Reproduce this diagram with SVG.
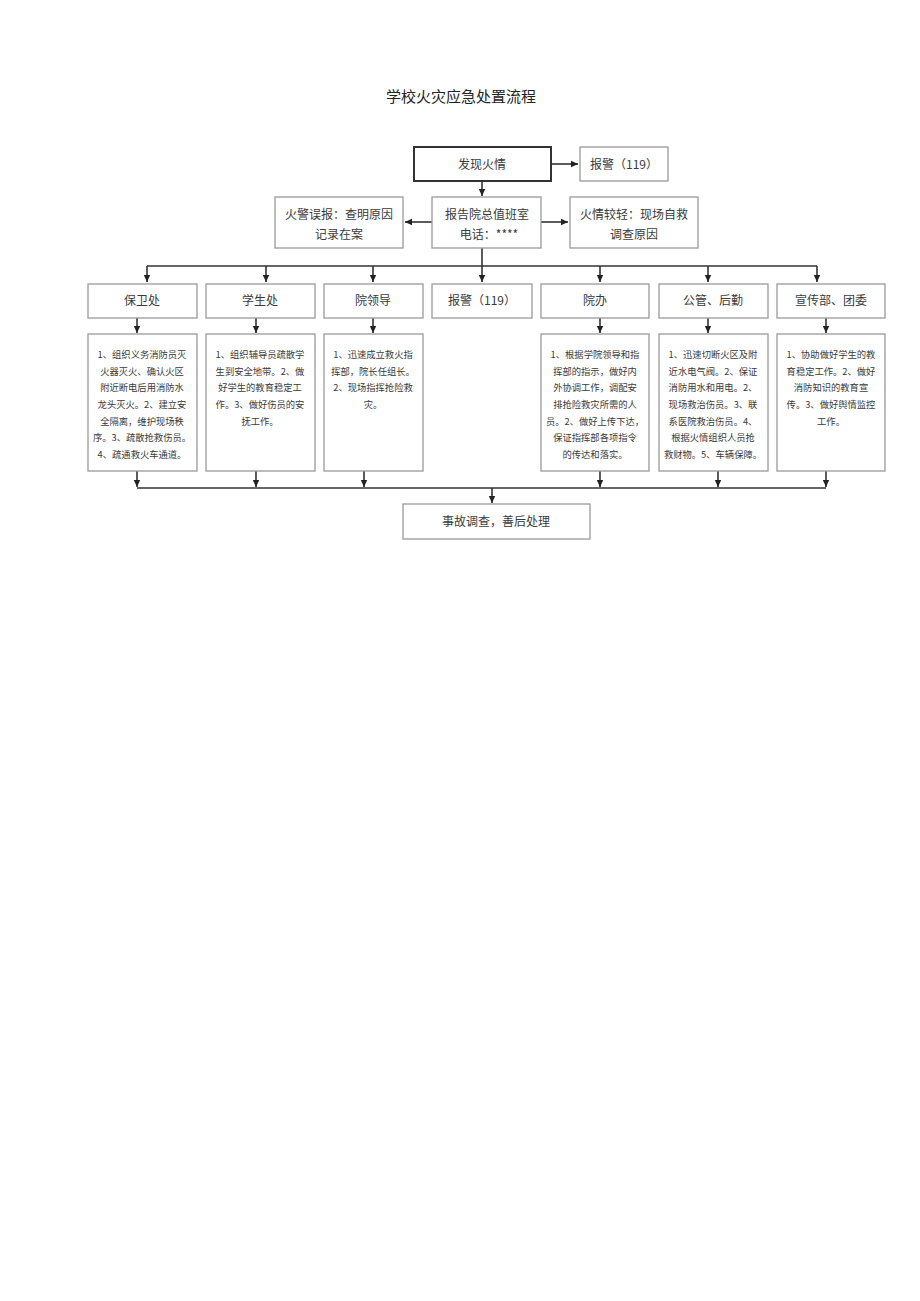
<svg xmlns="http://www.w3.org/2000/svg" width="920" height="1301" viewBox="0 0 920 1301">
<style>
text{font-family:"Noto Sans CJK SC","Liberation Sans",sans-serif;fill:#3a3a3a;text-anchor:middle}
.box{fill:#fff;stroke:#9a9a9a;stroke-width:1.3}
.main{fill:#fff;stroke:#333;stroke-width:2}
.t{font-size:12px}
.d{font-size:9.3px}
.title{font-size:15px;fill:#222}
.ln{fill:none;stroke:#333;stroke-width:1.6}
</style>
<defs>
<marker id="ah" markerWidth="8" markerHeight="8" refX="7" refY="4" orient="auto" markerUnits="userSpaceOnUse">
<path d="M0,0.8 L7,4 L0,7.2 Z" fill="#222"/>
</marker>
</defs>
<rect width="920" height="1301" fill="#fff"/>
<text class="title" x="461" y="102">学校火灾应急处置流程</text>

<g id="connectors">
<line class="ln" x1="551" y1="164" x2="578" y2="164" marker-end="url(#ah)"/>
<line class="ln" x1="482" y1="181" x2="482" y2="196" marker-end="url(#ah)"/>
<line class="ln" x1="432" y1="222" x2="405" y2="222" marker-end="url(#ah)"/>
<line class="ln" x1="541" y1="222" x2="568" y2="222" marker-end="url(#ah)"/>
<line class="ln" x1="482" y1="248" x2="482" y2="266"/>
<line class="ln" x1="147" y1="266" x2="817" y2="266"/>
<line class="ln" x1="147" y1="266" x2="147" y2="282" marker-end="url(#ah)"/>
<line class="ln" x1="266" y1="266" x2="266" y2="282" marker-end="url(#ah)"/>
<line class="ln" x1="373" y1="266" x2="373" y2="282" marker-end="url(#ah)"/>
<line class="ln" x1="482" y1="266" x2="482" y2="282" marker-end="url(#ah)"/>
<line class="ln" x1="600" y1="266" x2="600" y2="282" marker-end="url(#ah)"/>
<line class="ln" x1="708" y1="266" x2="708" y2="282" marker-end="url(#ah)"/>
<line class="ln" x1="817" y1="266" x2="817" y2="282" marker-end="url(#ah)"/>
<line class="ln" x1="137" y1="317" x2="137" y2="333" marker-end="url(#ah)"/>
<line class="ln" x1="256" y1="317" x2="256" y2="333" marker-end="url(#ah)"/>
<line class="ln" x1="373" y1="317" x2="373" y2="333" marker-end="url(#ah)"/>
<line class="ln" x1="600" y1="317" x2="600" y2="333" marker-end="url(#ah)"/>
<line class="ln" x1="708" y1="317" x2="708" y2="333" marker-end="url(#ah)"/>
<line class="ln" x1="826" y1="317" x2="826" y2="333" marker-end="url(#ah)"/>
<line class="ln" x1="137" y1="471" x2="137" y2="487" marker-end="url(#ah)"/>
<line class="ln" x1="256" y1="471" x2="256" y2="487" marker-end="url(#ah)"/>
<line class="ln" x1="364" y1="471" x2="364" y2="487" marker-end="url(#ah)"/>
<line class="ln" x1="600" y1="471" x2="600" y2="487" marker-end="url(#ah)"/>
<line class="ln" x1="718" y1="471" x2="718" y2="487" marker-end="url(#ah)"/>
<line class="ln" x1="826" y1="471" x2="826" y2="487" marker-end="url(#ah)"/>
<line class="ln" x1="137" y1="488" x2="826" y2="488"/>
<line class="ln" x1="492" y1="488" x2="492" y2="503" marker-end="url(#ah)"/>
</g>

<g id="n-find"><rect class="main" x="414" y="147" width="137" height="34"/><text class="t" x="482" y="169">发现火情</text></g>
<g id="n-alarm1"><rect class="box" x="580" y="147" width="88" height="34"/><text class="t" x="624" y="169">报警（119）</text></g>
<g id="n-false"><rect class="box" x="275" y="197" width="128" height="51"/><text class="t" x="339" y="219">火警误报：查明原因</text><text class="t" x="339" y="239">记录在案</text></g>
<g id="n-report"><rect class="box" x="432" y="197" width="109" height="51"/><text class="t" x="487" y="219">报告院总值班室</text><text class="t" x="489" y="239">电话：****</text></g>
<g id="n-light"><rect class="box" x="570" y="197" width="128" height="51"/><text class="t" x="634" y="219">火情较轻：现场自救</text><text class="t" x="634" y="239">调查原因</text></g>

<g id="n-bwc"><rect class="box" x="88" y="284" width="109" height="34"/><text class="t" x="142" y="305">保卫处</text></g>
<g id="n-xsc"><rect class="box" x="206" y="284" width="109" height="34"/><text class="t" x="260" y="305">学生处</text></g>
<g id="n-yld"><rect class="box" x="324" y="284" width="99" height="34"/><text class="t" x="373" y="305">院领导</text></g>
<g id="n-alarm2"><rect class="box" x="432" y="284" width="100" height="34"/><text class="t" x="482" y="305">报警（119）</text></g>
<g id="n-yb"><rect class="box" x="541" y="284" width="108" height="34"/><text class="t" x="595" y="305">院办</text></g>
<g id="n-gg"><rect class="box" x="659" y="284" width="109" height="34"/><text class="t" x="713" y="305">公管、后勤</text></g>
<g id="n-xc"><rect class="box" x="777" y="284" width="108" height="34"/><text class="t" x="831" y="305">宣传部、团委</text></g>

<g id="d-bwc"><rect class="box" x="88" y="334" width="109" height="137"/>
<text class="d" x="142"><tspan x="142" y="358">1、组织义务消防员灭</tspan><tspan x="142" y="375">火器灭火、确认火区</tspan><tspan x="142" y="391">附近断电后用消防水</tspan><tspan x="142" y="408">龙头灭火。2、建立安</tspan><tspan x="142" y="425">全隔离，维护现场秩</tspan><tspan x="142" y="441">序。3、疏散抢救伤员。</tspan><tspan x="142" y="458">4、疏通救火车通道。</tspan></text></g>
<g id="d-xsc"><rect class="box" x="206" y="334" width="109" height="137"/>
<text class="d" x="260"><tspan x="260" y="358">1、组织辅导员疏散学</tspan><tspan x="260" y="375">生到安全地带。2、做</tspan><tspan x="260" y="391">好学生的教育稳定工</tspan><tspan x="260" y="408">作。3、做好伤员的安</tspan><tspan x="260" y="425">抚工作。</tspan></text></g>
<g id="d-yld"><rect class="box" x="324" y="334" width="99" height="137"/>
<text class="d" x="373"><tspan x="373" y="358">1、迅速成立救火指</tspan><tspan x="373" y="375">挥部，院长任组长。</tspan><tspan x="373" y="391">2、现场指挥抢险救</tspan><tspan x="373" y="408">灾。</tspan></text></g>
<g id="d-yb"><rect class="box" x="541" y="334" width="108" height="137"/>
<text class="d" x="595"><tspan x="595" y="358">1、根据学院领导和指</tspan><tspan x="595" y="375">挥部的指示，做好内</tspan><tspan x="595" y="391">外协调工作，调配安</tspan><tspan x="595" y="408">排抢险救灾所需的人</tspan><tspan x="595" y="425">员。2、做好上传下达，</tspan><tspan x="595" y="441">保证指挥部各项指令</tspan><tspan x="595" y="458">的传达和落实。</tspan></text></g>
<g id="d-gg"><rect class="box" x="659" y="334" width="109" height="137"/>
<text class="d" x="713"><tspan x="713" y="358">1、迅速切断火区及附</tspan><tspan x="713" y="375">近水电气阀。2、保证</tspan><tspan x="713" y="391">消防用水和用电。2、</tspan><tspan x="713" y="408">现场救治伤员。3、联</tspan><tspan x="713" y="425">系医院救治伤员。4、</tspan><tspan x="713" y="441">根据火情组织人员抢</tspan><tspan x="713" y="458">救财物。5、车辆保障。</tspan></text></g>
<g id="d-xc"><rect class="box" x="777" y="334" width="108" height="137"/>
<text class="d" x="831"><tspan x="831" y="358">1、协助做好学生的教</tspan><tspan x="831" y="375">育稳定工作。2、做好</tspan><tspan x="831" y="391">消防知识的教育宣</tspan><tspan x="831" y="408">传。3、做好舆情监控</tspan><tspan x="831" y="425">工作。</tspan></text></g>

<g id="n-final"><rect class="box" x="403" y="504" width="187" height="35"/><text class="t" x="496" y="526">事故调查，善后处理</text></g>
</svg>
